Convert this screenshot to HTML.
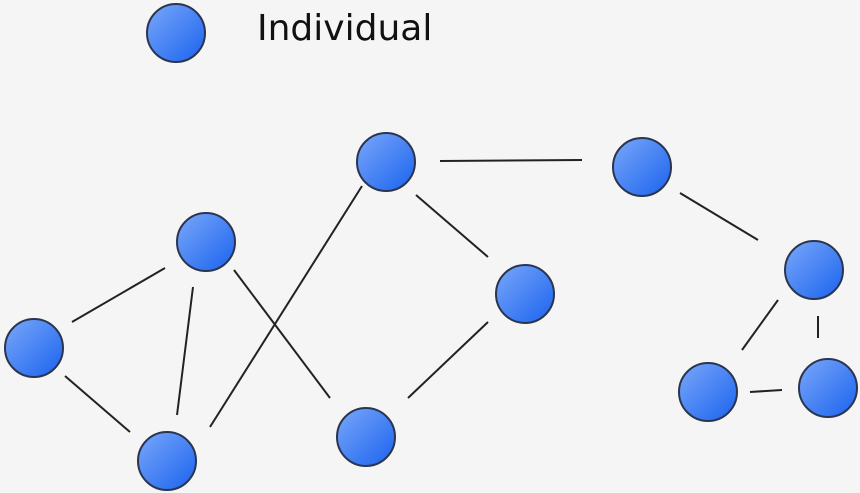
<!DOCTYPE html>
<html><head><style>body{margin:0;background:#f5f5f5}svg{display:block}</style></head><body>
<svg width="860" height="493" viewBox="0 0 860 493" xmlns="http://www.w3.org/2000/svg">
<defs><linearGradient id="g" x1="0" y1="0" x2="1" y2="1"><stop offset="0" stop-color="#7aa8fa"/><stop offset="1" stop-color="#1a62ee"/></linearGradient></defs>
<rect width="860" height="493" fill="#f5f5f5"/>
<g stroke="#222" stroke-width="2">
<line x1="440" y1="161" x2="582" y2="160"/>
<line x1="680" y1="193" x2="758" y2="240"/>
<line x1="416" y1="195" x2="488" y2="257"/>
<line x1="488" y1="322" x2="408" y2="398"/>
<line x1="165" y1="268" x2="72" y2="322"/>
<line x1="193" y1="287" x2="177" y2="415"/>
<line x1="234" y1="270" x2="330" y2="398"/>
<line x1="362" y1="186" x2="210" y2="427"/>
<line x1="65" y1="376" x2="130" y2="432"/>
<line x1="778" y1="300" x2="742" y2="350"/>
<line x1="818" y1="316" x2="818" y2="338"/>
<line x1="750" y1="392" x2="782" y2="390"/>
</g>
<g fill="url(#g)" stroke="#2a3550" stroke-width="2">
<circle cx="176" cy="33" r="29"/>
<circle cx="386" cy="162" r="29"/>
<circle cx="642" cy="167" r="29"/>
<circle cx="206" cy="242" r="29"/>
<circle cx="525" cy="294" r="29"/>
<circle cx="814" cy="270" r="29"/>
<circle cx="34" cy="348" r="29"/>
<circle cx="366" cy="437" r="29"/>
<circle cx="708" cy="392" r="29"/>
<circle cx="828" cy="388" r="29"/>
<circle cx="167" cy="461" r="29"/>
</g>
<text x="257" y="40" font-family="DejaVu Sans, Liberation Sans, sans-serif" font-size="36" fill="#111">Individual</text>
</svg>
</body></html>
